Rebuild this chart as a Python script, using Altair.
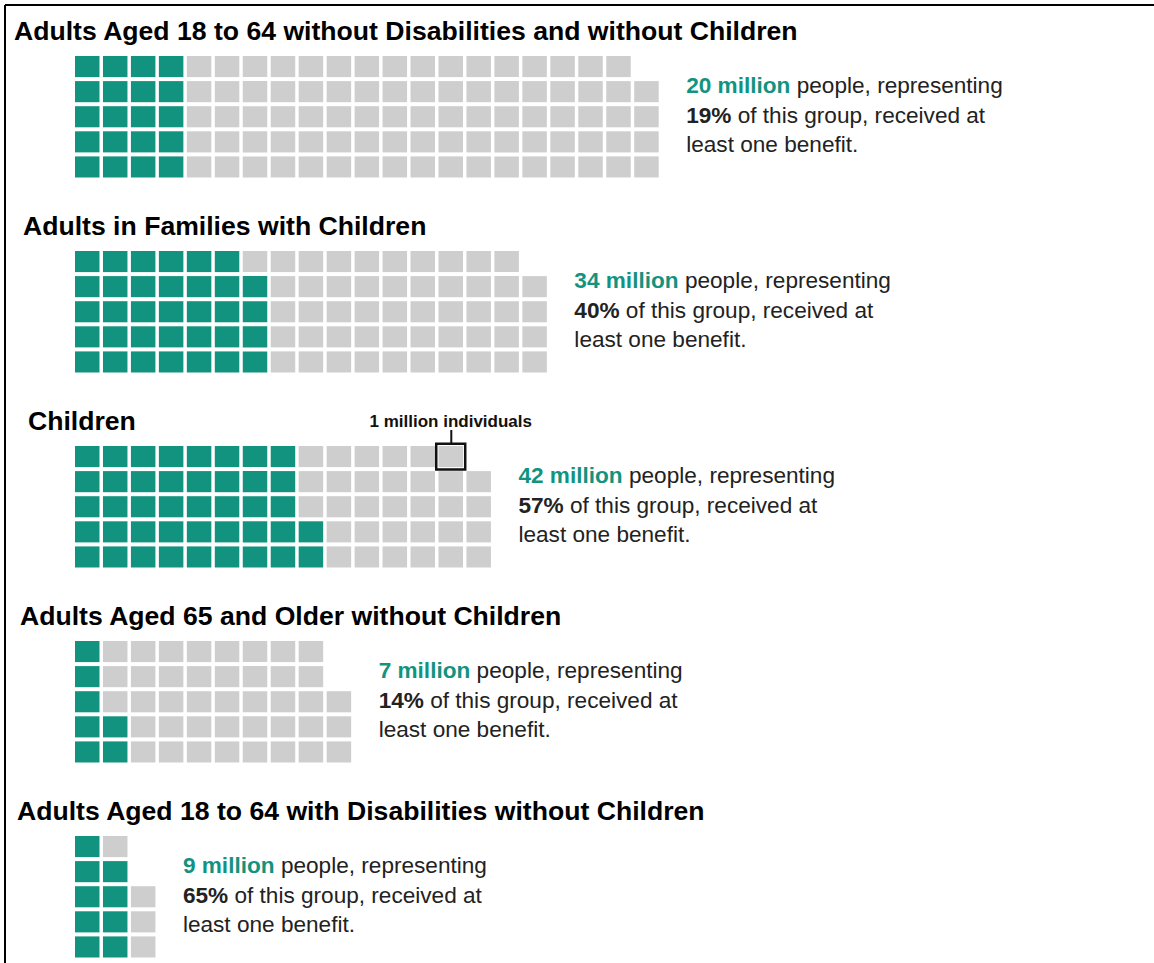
import math
import altair as alt
import pandas as pd

# ---------------- data ----------------
TITLES = [
    "Adults Aged 18 to 64 without Disabilities and without Children",
    "Adults in Families with Children",
    "Children",
    "Adults Aged 65 and Older without Children",
    "Adults Aged 18 to 64 with Disabilities without Children",
]
TOTAL_CELLS = [104, 84, 74, 48, 13]      # squares drawn per group (1 square = 1 million)
FILLED_CELLS = [20, 34, 42, 7, 9]        # squares that received a benefit
MILLIONS = [20, 34, 42, 7, 9]
PERCENTS = [19, 40, 57, 14, 65]
ANNOTATION = "1 million individuals"
ANNOT_GROUP = 2
ANNOT_COL = 13
ANNOT_ROW = 0

# ---------------- layout / style constants ----------------
W, H = 1154, 963
ROWS = 5
PX = 27.96          # column pitch (px)
PY = 25.1           # row pitch (px)
CELL_W = 24.5
CELL_H = 21.1
LEFT_PX = 75
TOP_PX = 56
GROUP_PX = 195
TITLE_INDENT_PX = [14, 23, 28, 20, 17]
TEAL = "#12937f"
GRAY = "#cecece"
TEXT = "#222222"
FONT = "Liberation Sans"
TITLE_SIZE = 26.6
BODY_SIZE = 22.6
ANNOT_SIZE = 17

GP = GROUP_PX / PY   # group pitch in row units
CWU = CELL_W / PX
CHU = CELL_H / PY

# Liberation Sans Bold advance widths (per 1000 em) for the bold fragments
BOLD_W = {**{d: 556 for d in "0123456789"}, " ": 278, "m": 889, "i": 278,
          "l": 278, "o": 611, "n": 611, "%": 889}
SPACE_REG = 278


def bold_width(s, size):
    return sum(BOLD_W.get(c, 600) for c in s) / 1000 * size


# ---------------- build tables ----------------
cells = []
for g, (tot, fil) in enumerate(zip(TOTAL_CELLS, FILLED_CELLS)):
    for i in range(tot):
        col = i // ROWS
        row = ROWS - 1 - (i % ROWS)
        y = g * GP + row
        cells.append({
            "group": g, "x": col, "x2": col + CWU, "y": y, "y2": y + CHU,
            "status": "received" if i < fil else "did not receive",
        })
cells = pd.DataFrame(cells)

titles = pd.DataFrame({
    "text": TITLES,
    "x": [(ind - LEFT_PX) / PX for ind in TITLE_INDENT_PX],
    "y": [g * GP - 24 / PY for g in range(len(TITLES))],
})

ncols = [math.ceil(t / ROWS) for t in TOTAL_CELLS]
tx = [n + 0.86 for n in ncols]
l1 = [g * GP + 30 / PY for g in range(len(TITLES))]
l2 = [g * GP + 59.5 / PY for g in range(len(TITLES))]
l3 = [g * GP + 89 / PY for g in range(len(TITLES))]

m_txt = [f"{m} million" for m in MILLIONS]
p_txt = [f"{p}%" for p in PERCENTS]

line1_bold = pd.DataFrame({"text": m_txt, "x": tx, "y": l1})
line1_reg = pd.DataFrame({
    "text": ["people, representing"] * len(TITLES),
    "x": [x + (bold_width(t, BODY_SIZE) + SPACE_REG / 1000 * BODY_SIZE) / PX for x, t in zip(tx, m_txt)],
    "y": l1,
})
line2_bold = pd.DataFrame({"text": p_txt, "x": tx, "y": l2})
line2_reg = pd.DataFrame({
    "text": ["of this group, received at"] * len(TITLES),
    "x": [x + (bold_width(t, BODY_SIZE) + SPACE_REG / 1000 * BODY_SIZE) / PX for x, t in zip(tx, p_txt)],
    "y": l2,
})
line3 = pd.DataFrame({"text": ["least one benefit."] * len(TITLES), "x": tx, "y": l3})

ay = ANNOT_GROUP * GP + ANNOT_ROW
annot_box = pd.DataFrame({
    "x": [ANNOT_COL - 0.08], "x2": [ANNOT_COL + CWU + 0.08],
    "y": [ay - 0.09], "y2": [ay + CHU + 0.1],
})
annot_line = pd.DataFrame({
    "x": [ANNOT_COL + CWU / 2 + 0.02], "y": [ay - 16 / PY], "y2": [ay - 0.09],
})
annot_text = pd.DataFrame({
    "text": [ANNOTATION], "x": [ANNOT_COL + CWU / 2], "y": [ay - 19.5 / PY],
})

# ---------------- scales ----------------
xs = alt.Scale(domain=[-LEFT_PX / PX, (W - LEFT_PX) / PX], nice=False, zero=False)
ys = alt.Scale(domain=[-TOP_PX / PY, (H - TOP_PX) / PY], nice=False, zero=False, reverse=True)
X = lambda f: alt.X(f, type="quantitative", scale=xs, axis=None)
Y = lambda f: alt.Y(f, type="quantitative", scale=ys, axis=None)

rects = alt.Chart(cells).mark_rect().encode(
    x=X("x"), x2="x2", y=Y("y"), y2="y2",
    color=alt.Color("status:N", scale=alt.Scale(domain=["received", "did not receive"],
                                                 range=[TEAL, GRAY]), legend=None),
)


def text_layer(df, weight, color, size, baseline="middle", align="left"):
    return alt.Chart(df).mark_text(
        font=FONT, fontWeight=weight, color=color, fontSize=size,
        align=align, baseline=baseline,
    ).encode(x=X("x"), y=Y("y"), text="text:N")


title_layer = text_layer(titles, "bold", "#000000", TITLE_SIZE)
b1 = text_layer(line1_bold, "bold", TEAL, BODY_SIZE)
r1 = text_layer(line1_reg, "normal", TEXT, BODY_SIZE)
b2 = text_layer(line2_bold, "bold", TEXT, BODY_SIZE)
r2 = text_layer(line2_reg, "normal", TEXT, BODY_SIZE)
r3 = text_layer(line3, "normal", TEXT, BODY_SIZE)

box = alt.Chart(annot_box).mark_rect(fillOpacity=0, stroke="#111111", strokeWidth=2.5).encode(
    x=X("x"), x2="x2", y=Y("y"), y2="y2")
leader = alt.Chart(annot_line).mark_rule(color="#111111", strokeWidth=2).encode(
    x=X("x"), y=Y("y"), y2="y2")
annot = text_layer(annot_text, "bold", "#111111", ANNOT_SIZE, baseline="alphabetic", align="center")

frame_top = alt.Chart(pd.DataFrame({"k": [0]})).mark_rule(color="#000000", strokeWidth=2).encode(
    x=alt.value(5), x2=alt.value(W), y=alt.value(5))
frame_left = alt.Chart(pd.DataFrame({"k": [0]})).mark_rule(color="#000000", strokeWidth=2).encode(
    x=alt.value(5), y=alt.value(5), y2=alt.value(H))

chart = alt.layer(
    rects, title_layer, b1, r1, b2, r2, r3, box, leader, annot, frame_top, frame_left
).properties(
    width=W, height=H, padding=0, autosize=alt.AutoSizeParams(type="none"),
    background="white",
).configure_view(stroke=None)

chart.save("out.html", embed_options={"renderer": "svg", "actions": False})
